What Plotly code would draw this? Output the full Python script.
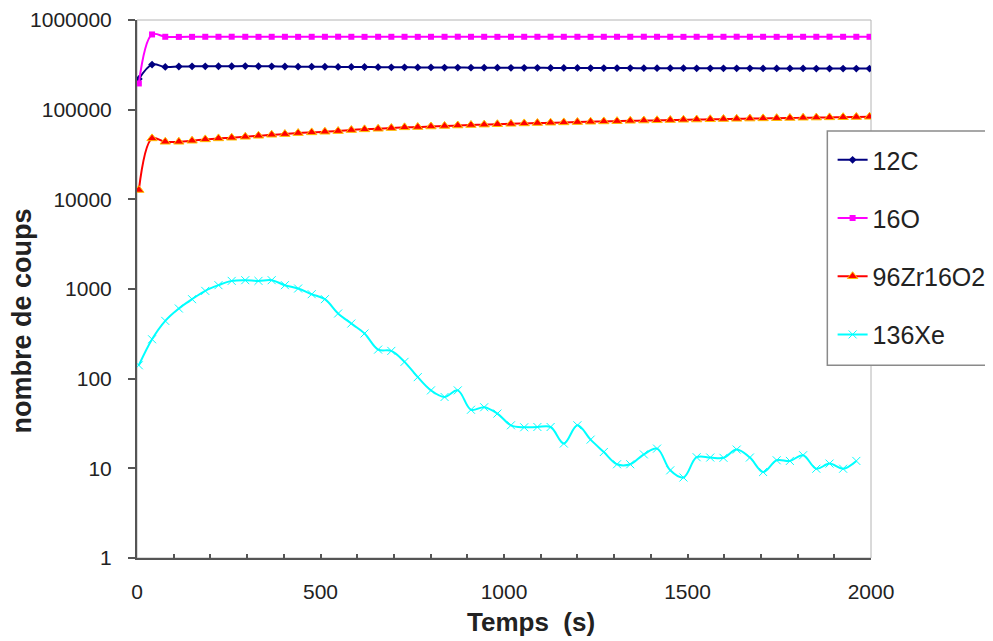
import plotly.graph_objects as go

# ---- data ----
time_s = [5, 41, 77, 114, 150, 186, 222, 258, 295, 331, 367, 403, 439, 476, 512, 548,
          584, 620, 657, 693, 729, 765, 801, 838, 874, 910, 946, 982, 1019, 1055, 1091,
          1127, 1163, 1200, 1236, 1272, 1308, 1344, 1381, 1417, 1453, 1489, 1525, 1562,
          1598, 1634, 1670, 1706, 1743, 1779, 1815, 1851, 1887, 1924, 1960, 1996]

c12 = [220000, 318000, 300000, 303000, 304000, 304000, 305000, 305000, 306000, 305000,
       304000, 303000, 302000, 302000, 301000, 300000, 300000, 299000, 298000, 297000,
       297000, 296000, 296000, 295000, 295000, 294000, 294000, 294000, 293000, 293000,
       293000, 292000, 292000, 292000, 291000, 291000, 291000, 291000, 290000, 290000,
       290000, 290000, 289000, 289000, 289000, 289000, 289000, 288000, 288000, 288000,
       288000, 287000, 287000, 287000, 287000, 287000]

o16 = [196000, 690000, 650000, 648000, 649000, 650000, 650000, 651000, 650000, 649000,
       650000, 650000, 649000, 650000, 650000, 651000, 650000, 649000, 650000, 650000,
       650000, 649000, 650000, 650000, 651000, 650000, 650000, 649000, 650000, 650000,
       650000, 651000, 650000, 650000, 649000, 650000, 650000, 650000, 651000, 650000,
       650000, 649000, 650000, 650000, 650000, 651000, 650000, 650000, 649000, 650000,
       650000, 650000, 651000, 650000, 650000, 650000]

zro2 = [12700, 47800, 43800, 43800, 45000, 46600, 47800, 48600, 49800, 51100,
        52500, 53400, 54800, 55800, 56700, 57700, 59200, 60300, 61200, 62300,
        63500, 64000, 64900, 65800, 66600, 67400, 68100, 68800, 69500, 70200,
        70900, 71500, 72100, 72700, 73300, 73900, 74500, 75100, 75600, 76100,
        76600, 77100, 77600, 78100, 78600, 79000, 79500, 79900, 80400, 80800,
        81200, 81600, 82000, 82400, 82800, 83200]

xe136 = [141, 275, 441, 606, 770, 953, 1103, 1232, 1254, 1232,
         1254, 1103, 1013, 875, 770, 533, 412, 319, 211, 204,
         154, 104, 74, 62.5, 74, 45, 48, 40.8, 30.2, 28.7,
         28.9, 28.9, 18.9, 30.2, 20.9, 15.2, 11.1, 11.1, 14.3, 16.6,
         9.5, 7.9, 13.3, 13.2, 13.1, 16.2, 13.2, 9.1, 12.3, 12.1,
         14.0, 9.9, 11.3, 9.9, 12.1]

y_tickvals = [1, 10, 100, 1000, 10000, 100000, 1000000]
y_ticktext = ["1", "10", "100", "1000", "10000", "100000", "1000000"]
x_tickvals = [0, 500, 1000, 1500, 2000]

x_title = "Temps \u00a0(s)"
y_title = "nombre de coups"

FONT = "Liberation Sans, Arial, sans-serif"

fig = go.Figure()

fig.add_trace(go.Scatter(
    x=time_s, y=c12, name="12C", mode="lines+markers", legendgroup="a",
    line=dict(color="#000080", width=2, shape="spline"),
    marker=dict(symbol="diamond", size=6, color="#000080")))
fig.add_trace(go.Scatter(
    x=time_s, y=o16, name="16O", mode="lines+markers", legendgroup="b",
    line=dict(color="#FF00FF", width=2, shape="spline"),
    marker=dict(symbol="square", size=6, color="#FF00FF")))
fig.add_trace(go.Scatter(
    x=time_s, y=zro2, name="96Zr16O2", mode="lines+markers", legendgroup="c",
    line=dict(color="#FF0000", width=2, shape="spline"),
    marker=dict(symbol="triangle-up", size=9, color="#FF0000",
                line=dict(color="#FFC000", width=1))))
fig.add_trace(go.Scatter(
    x=time_s[:len(xe136)], y=xe136, name="136Xe", mode="lines+markers", legendgroup="d",
    line=dict(color="#00FFFF", width=2, shape="spline"),
    marker=dict(symbol="x-thin", size=8, color="#00FFFF",
                line=dict(color="#00FFFF", width=1))))

fig.update_layout(
    width=993, height=641,
    paper_bgcolor="white", plot_bgcolor="white",
    margin=dict(l=128.7, r=130.3, t=12, b=91.4, autoexpand=False),
    font=dict(family=FONT, color="#222222"),
    showlegend=True,
    legend=dict(
        x=0.9477, xanchor="left", y=0.7824, yanchor="top",
        bgcolor="rgba(0,0,0,0)", borderwidth=0,
        font=dict(family=FONT, size=25, color="#222222"),
        traceorder="grouped", tracegroupgap=22.7,
        itemwidth=30,
    ),
    shapes=[
        dict(type="rect", xref="paper", yref="paper", x0=0, x1=1, y0=0, y1=1,
             line=dict(color="#b4b4b4", width=1), layer="below"),
        dict(type="rect", xref="paper", yref="paper", x0=0.9405, x1=1.2, y0=0.3583, y1=0.7935,
             line=dict(color="#8a8a8a", width=1.5), fillcolor="white", layer="above"),
    ],
    annotations=[
        dict(text="<b>" + x_title + "</b>", xref="paper", yref="paper",
             x=0.537, y=-0.1198, xanchor="center", yanchor="middle", showarrow=False,
             font=dict(family=FONT, size=26, color="#222222")),
        dict(text="<b>" + y_title + "</b>", xref="paper", yref="paper",
             x=-0.1563, y=0.4401, xanchor="center", yanchor="middle", showarrow=False,
             textangle=-90, font=dict(family=FONT, size=27, color="#222222")),
    ],
)

fig.update_xaxes(
    range=[0, 2000], tickvals=x_tickvals, ticktext=[str(v) for v in x_tickvals],
    ticks="inside", ticklen=4, tickwidth=1.5, tickcolor="#555555",
    minor=dict(dtick=100, ticks="inside", ticklen=4, tickwidth=1.5, tickcolor="#555555"),
    showline=True, linecolor="#555555", linewidth=2,
    showgrid=False, zeroline=False,
    tickfont=dict(family=FONT, size=21, color="#222222"),
    ticklabelstandoff=14,
)

fig.update_yaxes(
    type="log", range=[0, 6], tickvals=y_tickvals, ticktext=y_ticktext,
    ticks="outside", ticklen=7, tickwidth=1.5, tickcolor="#555555",
    showline=True, linecolor="#555555", linewidth=2,
    showgrid=False, zeroline=False,
    tickfont=dict(family=FONT, size=21, color="#222222"),
    ticklabelstandoff=12,
)

fig.write_html("out.html")
